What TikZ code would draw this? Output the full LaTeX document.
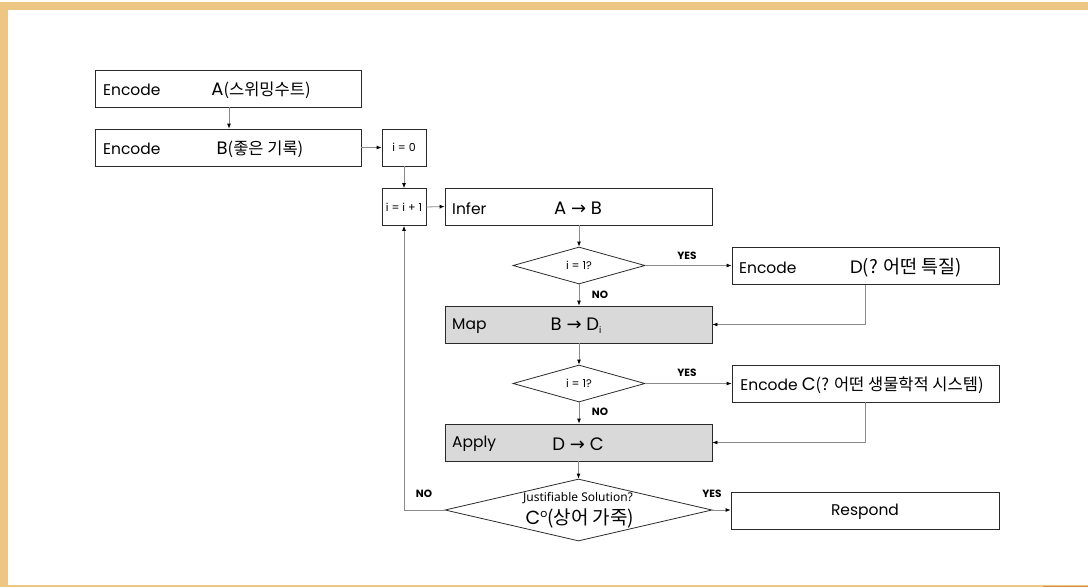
\documentclass[tikz,border=0pt]{standalone}
\usepackage{fontspec}
\setmainfont{Poppins}
\newfontfamily\kr{Noto Sans CJK KR}
\newfontfamily\sym{DejaVu Sans}
\newfontfamily\noto{Noto Sans}
\usetikzlibrary{shapes.geometric,arrows.meta}
\definecolor{frame}{HTML}{EDC684}
\definecolor{frameDark}{HTML}{D9914A}
\definecolor{boxline}{HTML}{2A2A2A}
\definecolor{wire}{HTML}{8A8A8A}
\definecolor{shade}{HTML}{D9D9D9}
% arrow sign, Korean run and big letter helpers
\newcommand{\ar}{{\sym\char"2192}}
\newcommand{\ko}[1]{{\kr\fontsize{16.5}{18}\selectfont #1}}
\newcommand{\kobig}[1]{{\kr\fontsize{18.5}{20}\selectfont #1}}
\newcommand{\bigletter}[1]{{\fontsize{18}{20}\selectfont #1}}
\begin{document}
\begin{tikzpicture}[x=1pt,y=-1pt,
  box/.style={draw=boxline, line width=0.8pt, minimum width=#1, minimum height=37pt, inner sep=0pt},
  box/.default=267pt,
  grey/.style={box, fill=shade},
  decision/.style n args={2}{diamond, draw=boxline, line width=0.8pt, minimum width=#1, minimum height=#2, inner sep=0pt, aspect=2},
  lbl/.style={inner sep=0pt, font=\fontsize{15.5}{18}\selectfont},
  small/.style={inner sep=0pt, font=\fontsize{11}{12}\selectfont},
  tag/.style={inner sep=0pt, font=\fontsize{10.5}{11}\selectfont\bfseries},
  wireline/.style={draw=wire, line width=0.8pt},
  flow/.style={wireline, -{Latex[length=5pt,width=4pt,color=black]}}
]
\useasboundingbox (0,0) rectangle (1088,587);
% page frame
\fill[frame] (0,2) rectangle (1088,10);
\fill[frame] (0,2) rectangle (8,587);
\fill[frame] (0,584.5) rectangle (1088,587);
\fill[frameDark] (1043,585.5) rectangle (1088,587);

% boxes
\node[box=266pt] (encA) at (228,88.5) {};
\node[box=266pt] (encB) at (228,147.5) {};
\node[box=44pt] (izero) at (404,147.5) {};
\node[box=44pt] (iinc) at (404,207) {};
\node[box] (infer) at (578.5,206.5) {};
\node[decision={132pt}{37pt}] (dia1) at (579,265.5) {};
\node[box] (encD) at (865.5,266) {};
\node[grey] (map) at (578.5,324.5) {};
\node[decision={132pt}{37pt}] (dia2) at (579,383.5) {};
\node[box] (encC) at (865.5,383.5) {};
\node[grey] (apply) at (578.5,442.5) {};
\node[decision={267pt}{62pt}] (dia3) at (578.5,510) {};
\node[box=268pt] (resp) at (865,510.5) {};

% texts
\node[lbl, anchor=west] (tA1) at (103,90) {Encode};
\node[lbl] (tA2) at (261,90) {\bigletter{A}\ko{(스위밍수트)}};
\node[lbl, anchor=west] (tB1) at (103,149) {Encode};
\node[lbl] (tB2) at (260,149) {\bigletter{B}\ko{(좋은 기록)}};
\node[small] (t0) at (izero) {i = 0};
\node[small] (t1) at (iinc) {i = i + 1};
\node[lbl, anchor=west] (tI1) at (452,208.5) {Infer};
\node[lbl] (tI2) at (578,208.5) {\bigletter{A \ar{} B}};
\node[small] (td1) at (dia1) {i = 1?};
\node[lbl, anchor=west] (tD1) at (739,267.5) {Encode};
\node[lbl] (tD2) at (906,267.5) {\bigletter{D}\kobig{(? 어떤 특질)}};
\node[lbl, anchor=west] (tM1) at (452,326) {Map};
\node[lbl] (tM2) at (576,326) {\bigletter{B \ar{} D}\raisebox{-3pt}{\fontsize{9}{10}\selectfont i}};
\node[small] (td2) at (dia2) {i = 1?};
\node[lbl] (tC) at (862,385) {Encode \bigletter{C}\ko{(? 어떤 생물학적 시스템)}};
\node[lbl, anchor=west] (tP1) at (452,444) {Apply};
\node[lbl] (tP2) at (578,444) {\bigletter{D \ar{} C}};
\node[inner sep=0pt, font=\noto\fontsize{12}{14}\selectfont] (tJ1) at (578,498) {Justifiable Solution?};
\node[inner sep=0pt, font=\fontsize{19}{21}\selectfont] (tJ2) at (580,518) {C\raisebox{7pt}{\fontsize{11}{11}\selectfont o}{\kr (상어 가죽)}};
\node[lbl] (tR) at (865,512) {Respond};

% branch tags
\node[tag] (yes1) at (687,256) {YES};
\node[tag] (no1) at (600,295) {NO};
\node[tag] (yes2) at (687,373) {YES};
\node[tag] (no2) at (600,412) {NO};
\node[tag] (yes3) at (712,494) {YES};
\node[tag] (no3) at (424,494) {NO};

% connectors
\draw[flow] (encA.south -| 229,0) -- (encB.north -| 229,0);
\draw[flow] (encB.east) -- (izero.west);
\draw[flow] (izero.south) -- (iinc.north);
\draw[flow] (iinc.east) -- (infer.west);
\draw[flow] (infer.south -| dia1.north) -- (dia1.north);
\draw[flow] (dia1.east) -- (encD.west |- dia1.east);
\draw[flow] (dia1.south) -- (map.north -| dia1.south);
\draw[flow] (encD.south) |- (map.east);
\draw[flow] (map.south -| dia2.north) -- (dia2.north);
\draw[flow] (dia2.east) -- (encC.west |- dia2.east);
\draw[flow] (dia2.south) -- (apply.north -| dia2.south);
\draw[flow] (encC.south) |- (apply.east);
\draw[flow] (apply.south -| dia3.north) -- (dia3.north);
\draw[flow] (dia3.east) -- (resp.west |- dia3.east);
\draw[flow] (dia3.west) -| (iinc.south);
\end{tikzpicture}
\end{document}
